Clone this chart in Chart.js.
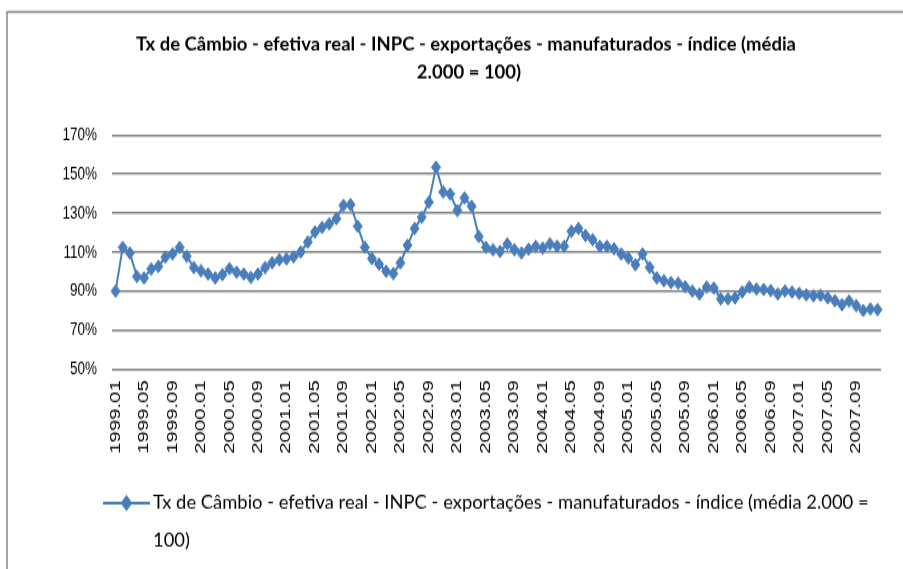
<!DOCTYPE html>
<html>
<head>
<meta charset="utf-8">
<script src="https://cdn.jsdelivr.net/npm/chart.js@4"></script>
<style>
  html, body { margin: 0; padding: 0; background: #fff; overflow: hidden; }
</style>
</head>
<body>
<canvas id="grafico" width="903" height="406" style="display:block;width:903px;height:569px"></canvas>
<script>
// Categorias mensais 1999.01 - 2007.12
const anos = ['1999', '2000', '2001', '2002', '2003', '2004', '2005', '2006', '2007'];
const meses = ['01', '02', '03', '04', '05', '06', '07', '08', '09', '10', '11', '12'];
const categorias = anos.flatMap(a => meses.map(m => a + '.' + m));

// Rótulos exibidos no eixo X (a cada 4 meses)
const rotulosX = [
  '1999.01', '1999.05', '1999.09', '2000.01', '2000.05', '2000.09',
  '2001.01', '2001.05', '2001.09', '2002.01', '2002.05', '2002.09',
  '2003.01', '2003.05', '2003.09', '2004.01', '2004.05', '2004.09',
  '2005.01', '2005.05', '2005.09', '2006.01', '2006.05', '2006.09',
  '2007.01', '2007.05', '2007.09'
];

// Índice (%), por ano
const tx1999 = [90, 112.4, 109.5, 97.5, 96.7, 101.3, 102.6, 107.4, 109, 112.4, 107.8, 102];
const tx2000 = [100.4, 98.7, 96.7, 98.4, 101.5, 99.6, 98.7, 97, 98.7, 102, 104.5, 106];
const tx2001 = [106.5, 107.5, 110, 115.1, 120.3, 122.6, 124.4, 127.1, 133.9, 134.3, 123.2, 112.4];
const tx2002 = [106.6, 103.8, 100.1, 98.9, 104.4, 113.4, 122, 127.8, 135.6, 153.5, 140.8, 139.7];
const tx2003 = [131.2, 137.7, 133.4, 118, 112.4, 111.2, 110.3, 114.1, 111.2, 109.5, 111.5, 112.9];
const tx2004 = [112, 114.1, 112.9, 112.9, 120.6, 122, 118.5, 116.3, 112.9, 112.9, 111.7, 109];
const tx2005 = [106.9, 103.5, 109, 102.1, 96.7, 95.3, 94.3, 94, 92.2, 90, 88.5, 92];
const tx2006 = [91.5, 86, 86, 86.5, 89.5, 92, 91, 90.8, 90.2, 88.5, 90, 89.5];
const tx2007 = [88.8, 88, 87.5, 87.8, 86.5, 85, 83, 84.8, 82.5, 80, 80.8, 80.5];
const serie = [].concat(tx1999, tx2000, tx2001, tx2002, tx2003, tx2004, tx2005, tx2006, tx2007);

// Textos
const tituloLinhas = [
  'Tx de Câmbio - efetiva real - INPC - exportações - manufaturados - índice (média',
  '2.000 = 100)'
];
const legendaLinhas = [
  'Tx de Câmbio - efetiva real - INPC - exportações - manufaturados - índice (média 2.000 =',
  '100)'
];

const azul = '#4a7ebb';
const esticar = 569 / 406; // canvas esticado na vertical pelo CSS

// Moldura, título e legenda desenhados sobre o canvas
const molduraPlugin = {
  id: 'moldura',
  afterDraw(chart) {
    const ctx = chart.ctx;
    ctx.save();
    ctx.strokeStyle = '#878787';
    ctx.lineWidth = 1.5;
    ctx.strokeRect(7, 8.5, 1000, 1000);

    // legenda: linha + marcador
    const ly = 503 / esticar;
    ctx.strokeStyle = azul;
    ctx.lineWidth = 2;
    ctx.beginPath();
    ctx.moveTo(103, ly);
    ctx.lineTo(150, ly);
    ctx.stroke();
    ctx.fillStyle = azul;
    Chart.helpers.drawPoint(ctx, { pointStyle: 'rectRot', radius: 4.5, borderWidth: 1 }, 126.5, ly);
    ctx.fill();

    // textos sem distorção vertical
    ctx.scale(1, 1 / esticar);
    ctx.fillStyle = '#000';
    ctx.textBaseline = 'middle';
    ctx.textAlign = 'center';
    ctx.font = 'bold 18.5px Lato';
    ctx.fillText(tituloLinhas[0], 466, 45);
    ctx.fillText(tituloLinhas[1], 469, 72);

    ctx.textAlign = 'left';
    ctx.font = '18.4px Lato';
    ctx.fillText(legendaLinhas[0], 153, 503);
    ctx.fillText(legendaLinhas[1], 153, 540);
    ctx.restore();
  }
};

new Chart(document.getElementById('grafico'), {
  type: 'line',
  data: {
    labels: categorias,
    datasets: [{
      label: legendaLinhas.join(' '),
      data: serie,
      borderColor: azul,
      backgroundColor: azul,
      borderWidth: 2,
      pointStyle: 'rectRot',
      pointRadius: 4.5,
      pointBackgroundColor: azul,
      pointBorderColor: azul,
      pointBorderWidth: 1,
      tension: 0
    }]
  },
  options: {
    responsive: false,
    animation: false,
    devicePixelRatio: 1,
    layout: { padding: { top: 96.3, right: 12, left: 0, bottom: 0 } },
    plugins: {
      legend: { display: false },
      title: { display: false },
      tooltip: { enabled: false }
    },
    scales: {
      x: {
        offset: true,
        grid: { display: false, drawTicks: false },
        border: { display: false },
        ticks: {
          autoSkip: false,
          minRotation: 90,
          maxRotation: 90,
          padding: 8,
          color: '#000',
          font: { family: 'Liberation Sans', size: 14.5 },
          callback: function(v) {
            const l = categorias[v];
            return rotulosX.includes(l) ? l : '';
          }
        },
        afterFit: function(s) { s.height = 142.7; }
      },
      y: {
        min: 50,
        max: 170,
        ticks: {
          stepSize: 20,
          padding: 15,
          color: '#000',
          font: { family: 'Liberation Sans', size: 13.5 },
          callback: v => v + '%'
        },
        grid: { color: '#868686', lineWidth: 1.4, drawTicks: false },
        border: { display: false },
        afterFit: function(s) { s.width = 112; }
      }
    }
  },
  plugins: [molduraPlugin]
});
</script>
</body>
</html>
